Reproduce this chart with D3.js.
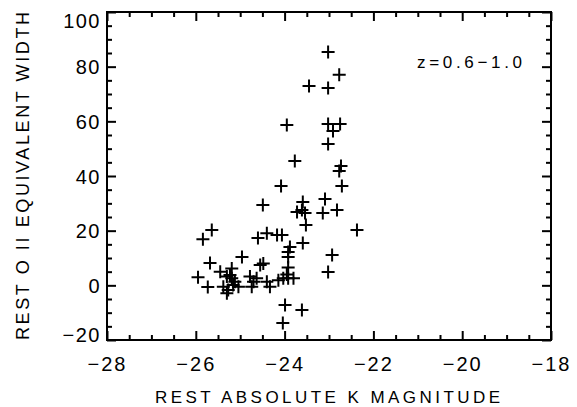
<!DOCTYPE html>
<html>
<head>
<meta charset="utf-8">
<script src="https://cdn.jsdelivr.net/npm/d3@7"></script>
<style>
  body { margin: 0; background: #fff; }
  text { font-family: "Liberation Sans", Arial, sans-serif; fill: #000; }
</style>
</head>
<body>
<div id="chart"></div>
<script>
// rest absolute K magnitude (x) and rest [O II] equivalent width (y)
var kMag = [
  -23.02, -22.77, -23.45, -23.02, -23.95, -23.02, -22.75, -22.91, -23.02, -23.77,
  -22.73, -22.77, -22.71, -24.08, -24.49, -23.59, -23.09, -23.72, -23.61, -23.54,
  -23.14, -22.82, -23.52, -22.37, -25.64, -25.84, -24.60, -24.40, -24.17, -24.06,
  -23.59, -23.88, -23.92, -23.92, -22.93, -23.02, -24.96, -25.68, -25.95, -25.73,
  -24.55, -23.99, -23.61, -24.04, -25.30, -25.19, -25.12, -25.38, -25.27, -25.16,
  -25.04, -25.30, -25.19, -24.78, -24.70, -24.63, -24.74, -24.40, -24.33, -24.48,
  -24.14, -24.03, -23.92, -23.80, -25.45, -25.23, -23.92, -23.95
];
var ewOII = [
  85.4, 77.0, 72.9, 72.2, 58.7, 59.0, 59.0, 56.5, 51.7, 45.5,
  43.7, 41.8, 36.3, 36.3, 29.4, 30.5, 31.6, 26.8, 27.6, 26.5,
  26.5, 27.6, 22.1, 20.2, 20.2, 16.9, 17.3, 19.1, 18.4, 18.4,
  15.5, 14.0, 12.2, 10.4, 11.1, 4.9, 10.4, 8.2, 3.0, -0.6,
  7.4, -7.2, -9.0, -13.8, 3.2, 2.6, 1.3, -0.5, -1.7, 0.1,
  -0.5, -2.9, 6.2, 3.2, 1.3, 2.6, -0.5, 1.3, -0.5, 8.0,
  1.9, 2.6, 2.6, 2.6, 5.0, 3.8, 6.5, 4.0
];
var xMajor = [-28, -26, -24, -22, -20, -18];
var yMajor = [-20, 0, 20, 40, 60, 80, 100];
var rangeLabel = "z=0.6\u22121.0";

var svgWidth = 577, svgHeight = 407;
var margin = {left: 107, right: 551, top: 12, bottom: 340};

var svg = d3.select("#chart").append("svg")
    .attr("width", svgWidth)
    .attr("height", svgHeight);

var x = d3.scaleLinear().domain([-28, -18]).range([margin.left, margin.right]);
var y = d3.scaleLinear().domain([-20, 100]).range([margin.bottom, margin.top]);

var xMinor = d3.range(-28, -17.9, 0.5).filter(v => xMajor.indexOf(v) < 0);
var yMinor = d3.range(-20, 100.1, 5).filter(v => yMajor.indexOf(v) < 0);

function styleAxis(g) {
  g.select(".domain").remove();
  g.selectAll("line").attr("stroke", "#000").attr("stroke-width", 2);
}

// bottom axis with labels
svg.append("g")
    .attr("transform", `translate(0,${margin.bottom})`)
    .call(d3.axisBottom(x).tickValues(xMajor).tickSize(-9).tickPadding(17)
      .tickFormat(d => "\u2212" + Math.abs(d)))
    .call(styleAxis)
    .selectAll("text")
    .attr("font-size", 20)
    .attr("letter-spacing", 2)
    .attr("dy", "0.71em");
svg.append("g")
    .attr("transform", `translate(0,${margin.bottom})`)
    .call(d3.axisBottom(x).tickValues(xMinor).tickSize(-5).tickFormat(""))
    .call(styleAxis);
// top axis
svg.append("g")
    .attr("transform", `translate(0,${margin.top})`)
    .call(d3.axisTop(x).tickValues(xMajor).tickSize(-9).tickFormat(""))
    .call(styleAxis);
svg.append("g")
    .attr("transform", `translate(0,${margin.top})`)
    .call(d3.axisTop(x).tickValues(xMinor).tickSize(-5).tickFormat(""))
    .call(styleAxis);

// left axis with labels
var yAx = svg.append("g")
    .attr("transform", `translate(${margin.left},0)`)
    .call(d3.axisLeft(y).tickValues(yMajor).tickSize(-9).tickPadding(6)
      .tickFormat(d => d < 0 ? "\u2212" + Math.abs(d) : d))
    .call(styleAxis);
yAx.selectAll("text")
    .attr("font-size", 20)
    .attr("letter-spacing", 1.5)
    .attr("dy", d => d === 100 ? "0.75em" : d === -20 ? "0.05em" : "0.35em");
svg.append("g")
    .attr("transform", `translate(${margin.left},0)`)
    .call(d3.axisLeft(y).tickValues(yMinor).tickSize(-5).tickFormat(""))
    .call(styleAxis);
// right axis
svg.append("g")
    .attr("transform", `translate(${margin.right},0)`)
    .call(d3.axisRight(y).tickValues(yMajor).tickSize(-9).tickFormat(""))
    .call(styleAxis);
svg.append("g")
    .attr("transform", `translate(${margin.right},0)`)
    .call(d3.axisRight(y).tickValues(yMinor).tickSize(-5).tickFormat(""))
    .call(styleAxis);

// frame
svg.append("rect")
    .attr("x", margin.left).attr("y", margin.top)
    .attr("width", margin.right - margin.left).attr("height", margin.bottom - margin.top)
    .attr("fill", "none").attr("stroke", "#000").attr("stroke-width", 2);

// points as plus signs
var pts = kMag.map((k, i) => ({k: k, ew: ewOII[i]}));
var arm = 6.5;
svg.append("g").selectAll("path")
    .data(pts)
    .enter()
    .append("path")
    .attr("d", d => {
      var cx = x(d.k), cy = y(d.ew);
      return `M${cx - arm},${cy}H${cx + arm}M${cx},${cy - arm}V${cy + arm}`;
    })
    .attr("stroke", "#000")
    .attr("stroke-width", 2)
    .attr("fill", "none");

// labels
svg.append("text")
    .attr("x", 417).attr("y", 68)
    .attr("font-size", 17)
    .attr("textLength", 105)
    .attr("lengthAdjust", "spacing")
    .text(rangeLabel);

svg.append("text")
    .attr("x", 155).attr("y", 403)
    .attr("font-size", 17)
    .attr("textLength", 345)
    .attr("lengthAdjust", "spacing")
    .text("REST ABSOLUTE K MAGNITUDE");

svg.append("text")
    .attr("transform", "translate(29,340) rotate(-90)")
    .attr("font-size", 18)
    .attr("textLength", 328)
    .attr("lengthAdjust", "spacing")
    .text("REST O II EQUIVALENT WIDTH");
</script>
</body>
</html>
